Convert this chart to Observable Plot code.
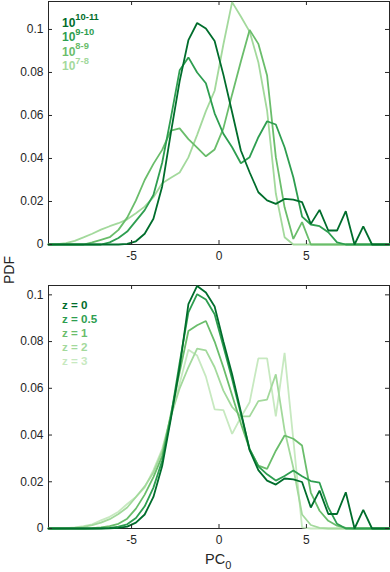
<!DOCTYPE html>
<html>
<head>
<meta charset="utf-8">
<script src="https://cdn.jsdelivr.net/npm/d3@7"></script>
<script src="https://cdn.jsdelivr.net/npm/@observablehq/plot@0.6"></script>
<style>
  html, body { margin: 0; padding: 0; background: #fff; }
  #wrap { position: relative; width: 390px; height: 572px; background: #fff; overflow: hidden; }
  #wrap > svg { position: absolute; left: 0; }
</style>
</head>
<body>
<div id="wrap"></div>
<script>
// Bin centres of PC0
const pc = [-9.75,-9.25,-8.75,-8.25,-7.75,-7.25,-6.75,-6.25,-5.75,-5.25,-4.75,-4.25,-3.75,-3.25,-2.75,-2.25,-1.75,-1.25,-0.75,-0.25,0.25,0.75,1.25,1.75,2.25,2.75,3.25,3.75,4.25,4.75,5.25,5.75,6.25,6.75,7.25,7.75,8.25,8.75,9.25,9.75];

// Top panel: mass bins
const massLabels = [["10","10-11"],["10","9-10"],["10","8-9"],["10","7-8"]];
const massColors = ["#006d2c","#2e9e50","#6abd6b","#a3d99c"];
const m1011 = [0,0,0,0,0,0,0,0,0,0.0003, 0.0015,0.005,0.012,0.027,0.052,0.076,0.095,0.103,0.1004,0.0946, 0.079,0.0615,0.0437,0.0336,0.0243,0.0205,0.0189,0.0212,0.0209,0.0197, 0.0096,0.0161,0.0065,0.0065,0.0155,0,0.0084,0,0,0];
const m910 = [0,0,0,0,0,0,0,0.001,0.003,0.006, 0.011,0.016,0.023,0.038,0.059,0.081,0.087,0.080,0.075,0.061, 0.0515,0.0452,0.0378,0.0406,0.0499,0.0573,0.0558,0.0452,0.0313,0.013, 0.0093,0.0085,0.0057,0.001,0,0,0,0,0,0];
const m89 = [0,0,0,0,0,0.001,0.0022,0.0034,0.0068,0.0125, 0.0205,0.030,0.0375,0.044,0.053,0.054,0.049,0.045,0.041,0.0442, 0.054,0.0698,0.0851,0.0998,0.0933,0.0786,0.0406,0.0173,0.0026,0.0104, 0,0,0,0,0,0,0,0,0,0];
const m78 = [0,0.0002,0.0006,0.0017,0.0033,0.005,0.0069,0.0085,0.0099,0.0117, 0.0145,0.0176,0.022,0.0285,0.031,0.0335,0.0405,0.051,0.062,0.0715, 0.093,0.1127,0.106,0.099,0.0848,0.0623,0.0237,0.0034,0,0, 0,0,0,0,0,0,0,0,0,0];

// Bottom panel: redshifts
const zLabels = ["z = 0","z = 0.5","z = 1","z = 2","z = 3"];
const zColors = ["#006d2c","#2e9e50","#6abd6b","#a3d99c","#c7e9c0"];
const z0 = [0,0,0,0,0,0,0,0.0001,0.0003,0.0008, 0.0025,0.006,0.0135,0.0267,0.047,0.069,0.096,0.1038,0.101,0.095, 0.080,0.066,0.050,0.0335,0.025,0.0205,0.0188,0.0214,0.021,0.0199, 0.009,0.0162,0.0062,0.0062,0.0155,0,0.008,0,0,0];
const z05 = [0,0,0,0,0,0,0.0001,0.0003,0.0008,0.0018, 0.0045,0.0095,0.0175,0.029,0.048,0.071,0.0925,0.1003,0.098,0.0917, 0.078,0.064,0.049,0.034,0.0266,0.0232,0.0205,0.0225,0.0248,0.0224, 0.0203,0.0196,0.009,0.002,0,0,0,0,0,0];
const z1 = [0,0,0,0,0,0.0002,0.0005,0.001,0.002,0.0042, 0.0085,0.0145,0.022,0.031,0.049,0.067,0.0845,0.087,0.0888,0.080, 0.069,0.057,0.045,0.034,0.0269,0.0255,0.0333,0.0398,0.0384,0.0355, 0.0154,0.0076,0.0033,0.0012,0.0003,0,0,0,0,0];
const z2 = [0,0,0.0001,0.0003,0.0007,0.0014,0.0025,0.004,0.0062,0.009, 0.0135,0.018,0.024,0.033,0.048,0.060,0.069,0.077,0.0762,0.069, 0.059,0.052,0.048,0.048,0.0545,0.0552,0.066,0.042,0.026,0.006, 0.0015,0.0003,0,0,0,0,0,0,0,0];
const z3 = [0,0.0001,0.0002,0.0005,0.001,0.0018,0.0035,0.005,0.0072,0.0105, 0.0135,0.0175,0.025,0.034,0.048,0.062,0.0765,0.074,0.065,0.051, 0.0507,0.0405,0.0476,0.054,0.0728,0.0728,0.048,0.0752,0.038,0.0005, 0,0,0,0,0,0,0,0,0,0];

const xTicks = [-5, 0, 5];
const yTicks = [0, 0.02, 0.04, 0.06, 0.08, 0.1];

const INK = "#262626";
const FONT = "'Liberation Sans', Arial, Helvetica, sans-serif";

function panel(seriesList, colors, yMax, opts) {
  const W = 390, ml = 48, mr = 1;
  const {height, mt, mb} = opts;
  const innerH = height - mt - mb, innerW = W - ml - mr;
  const tl = 4;
  const marks = [Plot.frame({stroke: INK, strokeWidth: 1})];
  // draw lightest first, darkest last
  for (let s = seriesList.length - 1; s >= 0; s--) {
    const vals = seriesList[s];
    marks.push(Plot.line(pc.map((x, i) => ({x, y: vals[i]})), {
      x: "x", y: "y", stroke: colors[s], strokeWidth: 1.8, strokeLinejoin: "miter"
    }));
  }
  marks.push(
    Plot.tickX(xTicks, {x: d => d, stroke: INK, insetTop: innerH - tl}),
    Plot.tickX(xTicks, {x: d => d, stroke: INK, insetBottom: innerH - tl}),
    Plot.tickY(yTicks, {y: d => d, stroke: INK, insetRight: innerW - tl}),
    Plot.tickY(yTicks, {y: d => d, stroke: INK, insetLeft: innerW - tl})
  );
  return Plot.plot({
    width: W, height,
    marginLeft: ml, marginRight: mr, marginTop: mt, marginBottom: mb,
    style: {fontFamily: FONT, fontSize: "12px", color: INK, background: "transparent"},
    x: {domain: [-9.75, 9.75], ticks: xTicks, tickSize: 0, tickPadding: 7,
        tickFormat: d => String(d), label: null},
    y: {domain: [0, yMax], ticks: yTicks, tickSize: 0, tickPadding: 5,
        tickFormat: d => d === 0 ? "0" : String(+d.toFixed(2)), label: null},
    marks
  });
}

const wrap = document.getElementById("wrap");
const top1 = panel([m1011, m910, m89, m78], massColors, 0.113, {height: 270, mt: 1, mb: 26});
top1.style.top = "0px";
wrap.appendChild(top1);
const bot = panel([z0, z05, z1, z2, z3], zColors, 0.104, {height: 273, mt: 5, mb: 25});
bot.style.top = "280px";
wrap.appendChild(bot);

// Overlay for legends and axis titles
const ov = d3.select(wrap).append("svg")
  .attr("width", 390).attr("height", 572)
  .style("top", "0px").style("pointer-events", "none")
  .style("font-family", FONT);

massLabels.forEach((lab, i) => {
  const t = ov.append("text").attr("x", 62).attr("y", 26.5 + i * 14.6)
    .attr("fill", massColors[i]).attr("font-weight", "bold").attr("font-size", 12);
  t.append("tspan").text(lab[0]);
  t.append("tspan").attr("dy", -6.5).attr("font-size", 9.4).text(lab[1]);
});

zLabels.forEach((lab, i) => {
  ov.append("text").attr("x", 62).attr("y", 308.5 + i * 14.2)
    .attr("fill", zColors[i]).attr("font-weight", "bold").attr("font-size", 11.6)
    .text(lab);
});

ov.append("text").attr("transform", "translate(14,270) rotate(-90)")
  .attr("text-anchor", "middle").attr("fill", INK).attr("font-size", 14).text("PDF");

const pcT = ov.append("text").attr("x", 205).attr("y", 564).attr("fill", INK).attr("font-size", 14.5);
pcT.append("tspan").text("PC");
pcT.append("tspan").attr("dy", 5).attr("font-size", 11).text("0");
</script>
</body>
</html>
